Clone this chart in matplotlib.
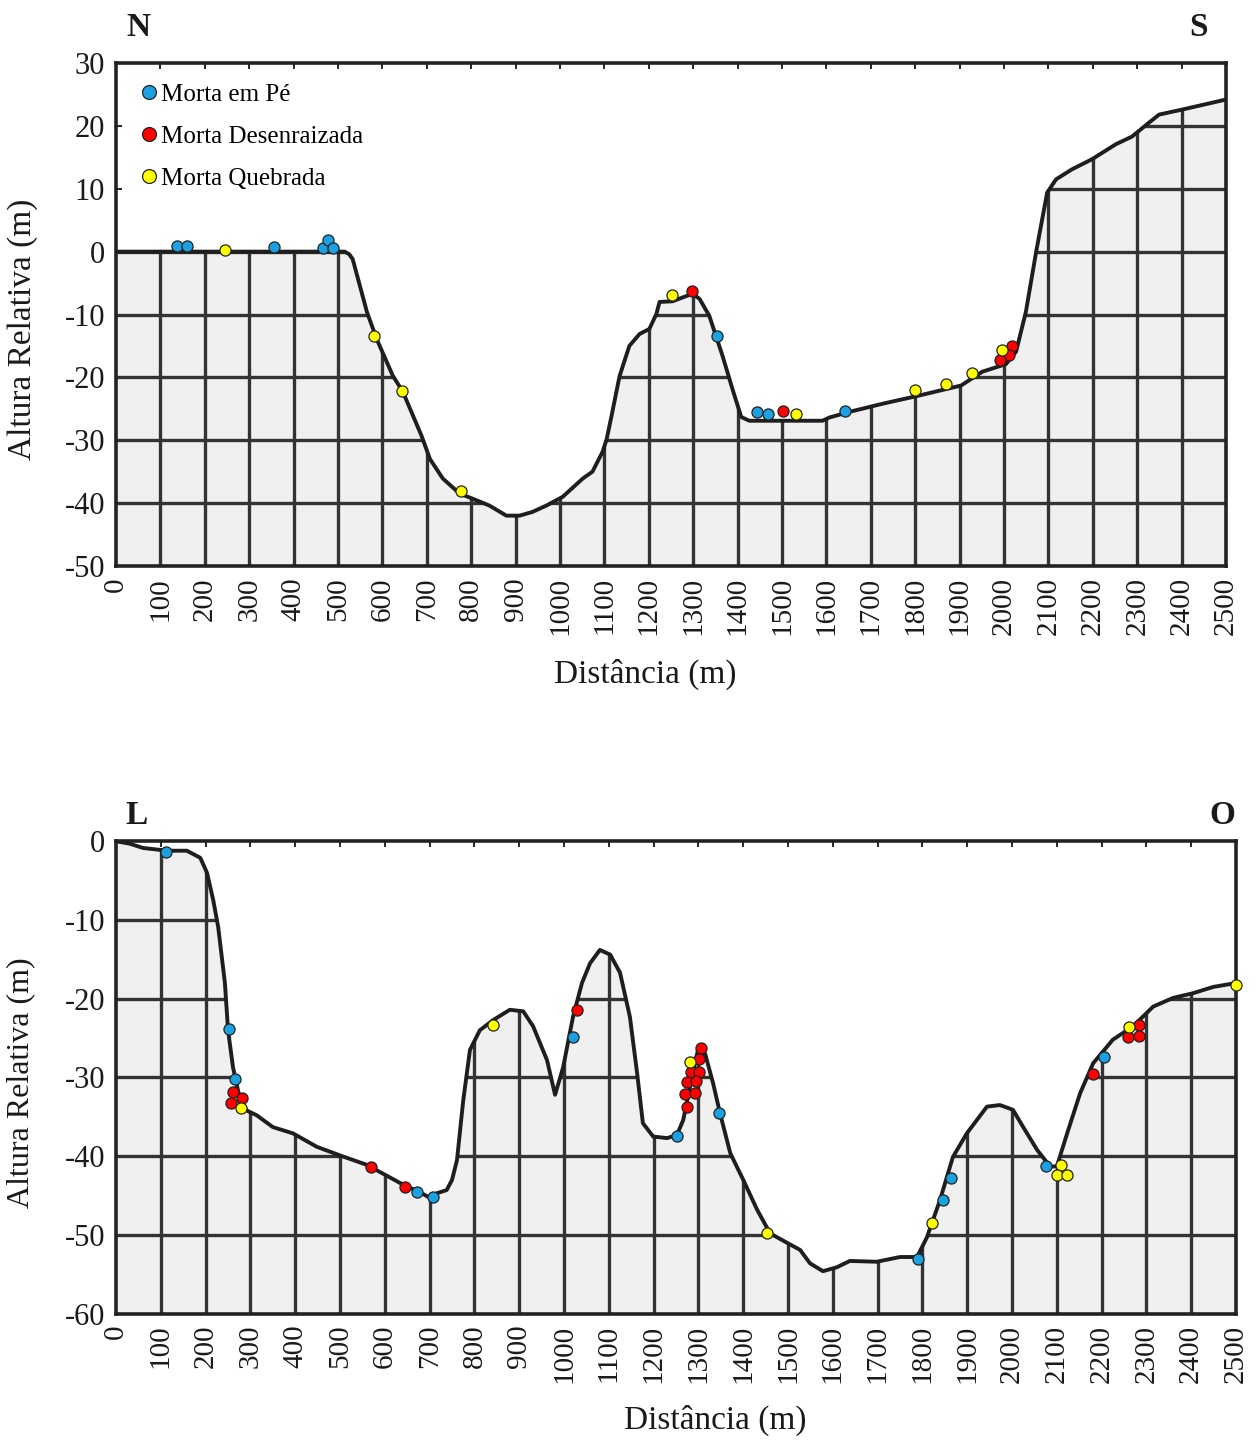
import numpy as np
import matplotlib
matplotlib.use("Agg")
import matplotlib.pyplot as plt
from matplotlib.lines import Line2D

plt.rcParams["font.family"] = ["Liberation Serif", "DejaVu Serif"]

# ===== perfil N-S =====
ns_dist = [0, 515, 525, 533, 565, 587, 623, 646, 688, 707, 736, 774, 803, 841, 879, 909, 938,
           969, 1006, 1051, 1073, 1096, 1105, 1116, 1134, 1156, 1179, 1201, 1217, 1224,
           1253, 1298, 1314, 1336, 1366, 1388, 1408, 1426, 1591, 1606, 1651, 1726, 1802,
           1903, 1951, 2004, 2027, 2049, 2072, 2097, 2117, 2153, 2198, 2252, 2288, 2326,
           2349, 2401, 2500]
ns_alt = [0, 0, -0.4, -1.2, -9.6, -13.9, -19.7, -22.3, -29.3, -33, -36.1, -38.5, -39.3, -40.4,
          -42, -42, -41.4, -40.4, -39, -36.1, -35, -31.8, -29.8, -26.1, -19.8, -15, -13.1,
          -12.3, -9.9, -8, -7.9, -6.7, -7.5, -10.2, -16.6, -21.8, -26.3, -26.9, -26.9,
          -26.4, -25.5, -24.2, -23, -21.3, -19.1, -17.9, -15.9, -9.6, -0.1, 9.4, 11.5,
          13.1, 14.7, 17.1, 18.3, 20.5, 21.8, 22.6, 24.2]

ns_pe_x = [137, 160, 355, 466, 477, 488, 1353, 1443, 1469, 1642]
ns_pe_y = [0.9, 0.9, 0.7, 0.55, 1.8, 0.55, -13.4, -25.5, -25.8, -25.4]
ns_des_x = [1297, 1503, 2017, 2011, 1991]
ns_des_y = [-6.3, -25.4, -15.0, -16.5, -17.2]
ns_que_x = [245, 581, 644, 776, 1252, 1531, 1799, 1869, 1927, 1996]
ns_que_y = [0.2, -13.4, -22.1, -38, -6.9, -25.9, -22, -21, -19.3, -15.6]

# ===== perfil L-O =====
lo_dist = [0, 30, 60, 114, 158, 188, 203, 217, 228, 243, 250, 261, 277, 292, 314, 350,
           395, 448, 500, 560, 634, 679, 701, 716, 738, 750, 761, 775, 790, 812, 842,
           879, 909, 931, 962, 980, 998, 1020, 1040, 1058, 1080, 1103, 1125, 1147, 1163,
           1176, 1199, 1230, 1252, 1266, 1281, 1299, 1315, 1333, 1348, 1371, 1400, 1431,
           1460, 1498, 1527, 1549, 1578, 1609, 1638, 1698, 1750, 1788, 1810, 1839, 1868,
           1899, 1944, 1973, 2002, 2025, 2056, 2085, 2100, 2123, 2152, 2181, 2225, 2270,
           2315, 2359, 2404, 2449, 2500]
lo_alt = [0, -0.3, -0.85, -1.2, -1.2, -2.1, -4, -7.5, -10.9, -18, -24, -28.7, -32.9,
          -34.2, -34.8, -36.3, -37.1, -38.8, -39.9, -41.1, -43.4, -44.6, -45.3, -44.7,
          -44.3, -43, -40.5, -32.9, -26.5, -24, -22.7, -21.4, -21.6, -23.5, -27.8, -32.2,
          -28.7, -22.3, -18, -15.5, -13.8, -14.4, -16.7, -22.3, -29.4, -35.8, -37.5,
          -37.7, -37.3, -35.4, -31.2, -26.5, -27, -30.8, -34.5, -39.6, -43, -46.8, -49.8,
          -51, -51.9, -53.6, -54.6, -54.1, -53.3, -53.4, -52.8, -52.8, -50.3, -45.6,
          -40.1, -37.1, -33.7, -33.5, -34.1, -36.3, -39.2, -41.3, -41.3, -37.1, -32,
          -28.2, -25.2, -23.5, -21, -19.9, -19.3, -18.5, -18]

lo_pe_x = [111, 252, 266, 672, 707, 1019, 1253, 1345, 1789, 1847, 1864, 2076, 2205]
lo_pe_y = [-1.4, -23.9, -30.2, -44.6, -45.2, -24.9, -37.4, -34.5, -53, -45.5, -42.8,
           -41.3, -27.4]
lo_des_x = [260, 281, 257, 568, 644, 1028, 1305, 1302, 1283, 1302, 1274, 1295, 1270,
            1292, 1275, 2180, 2284, 2258, 2283]
lo_des_y = [-31.9, -32.6, -33.2, -41.4, -43.9, -21.4, -26.3, -27.6, -29.3, -29.3, -30.6,
            -30.4, -32.1, -32, -33.8, -29.5, -23.3, -24.9, -24.7]
lo_que_x = [278, 842, 1281, 1454, 1822, 2109, 2101, 2122, 2261, 2501]
lo_que_y = [-33.9, -23.3, -28, -49.7, -48.5, -41.1, -42.4, -42.4, -23.6, -18.3]

x_ticks = np.arange(0, 2501, 100)

C_PE = "#1BA1E2"
C_DES = "#FF0000"
C_QUE = "#FFFF00"
GRID_C = "#333333"
TXT_C = "#1a1a1a"


def draw_profile(ax, dist, alt, ymin, ymax, yticks):
    dist = np.array(dist)
    alt = np.array(alt)
    fill = ax.fill_between(dist, alt, ymin, color="#f0f0f0", zorder=1, linewidth=0)
    clip = fill.get_paths()[0]

    # grelha só dentro da área do terreno
    vl = ax.vlines(x_ticks[1:-1], ymin, ymax, color=GRID_C, linewidth=2.4, zorder=2)
    hl = ax.hlines(yticks[1:-1], 0, 2500, color=GRID_C, linewidth=2.4, zorder=2)
    vl.set_clip_path(clip, ax.transData)
    hl.set_clip_path(clip, ax.transData)

    ax.plot(dist, alt, color="#1e1e1e", linewidth=2.8, zorder=3,
            solid_joinstyle="round")

    ax.set_xlim(0, 2500)
    ax.set_ylim(ymin, ymax)
    ax.set_xticks(x_ticks)
    ax.set_xticklabels([str(v) for v in x_ticks], rotation=90, fontsize=21, color=TXT_C)
    ax.set_yticks(yticks)
    ax.set_yticklabels([str(v) for v in yticks], fontsize=22, color=TXT_C)
    ax.tick_params(axis="x", direction="in", length=4, width=1.2, pad=8, top=True)
    ax.tick_params(axis="y", direction="in", length=4, width=1.2, pad=8)
    for sp in ax.spines.values():
        sp.set_linewidth(2.6)
        sp.set_color("#222222")


def draw_points(ax, xs, ys, color):
    ax.plot(xs, ys, "o", markersize=8, markerfacecolor=color,
            markeredgecolor="#222222", markeredgewidth=0.9, zorder=4, clip_on=False)


fig = plt.figure(figsize=(12.56, 14.43), dpi=100)

# ----- painel superior -----
ax1 = fig.add_axes([0.0924, 0.6078, 0.8838, 0.3485])
draw_profile(ax1, ns_dist, ns_alt, -50, 30, np.arange(-50, 31, 10))
draw_points(ax1, ns_pe_x, ns_pe_y, C_PE)
draw_points(ax1, ns_des_x, ns_des_y, C_DES)
draw_points(ax1, ns_que_x, ns_que_y, C_QUE)
ax1.set_ylabel("Altura Relativa (m)", fontsize=24, color=TXT_C)
ax1.yaxis.set_label_coords(-0.070, 0.47)
ax1.set_xlabel("Distância (m)", fontsize=24, color=TXT_C)
ax1.xaxis.set_label_coords(0.477, -0.184)

handles = [Line2D([], [], marker="o", linestyle="", markersize=10, markerfacecolor=c,
                  markeredgecolor="#222222", markeredgewidth=0.9)
           for c in (C_PE, C_DES, C_QUE)]
ax1.legend(handles, ["Morta em Pé", "Morta Desenraizada", "Morta Quebrada"],
           loc="upper left", frameon=False, fontsize=18, handletextpad=0.0,
           labelspacing=0.78, borderaxespad=0.4, handlelength=1.0,
           bbox_to_anchor=(0.0, 1.0))

# ----- painel inferior -----
ax2 = fig.add_axes([0.0924, 0.0896, 0.8917, 0.3274])
draw_profile(ax2, lo_dist, lo_alt, -60, 0, np.arange(-60, 1, 10))
draw_points(ax2, lo_pe_x, lo_pe_y, C_PE)
draw_points(ax2, lo_des_x, lo_des_y, C_DES)
draw_points(ax2, lo_que_x, lo_que_y, C_QUE)
ax2.set_ylabel("Altura Relativa (m)", fontsize=23, color=TXT_C)
ax2.yaxis.set_label_coords(-0.072, 0.49)
ax2.set_xlabel("Distância (m)", fontsize=24, color=TXT_C)
ax2.xaxis.set_label_coords(0.535, -0.192)

# orientações
for x, y, s in [(0.110, 0.9806, "N"), (0.954, 0.9806, "S"),
                (0.109, 0.4352, "L"), (0.973, 0.4352, "O")]:
    fig.text(x, y, s, fontsize=24, fontweight="bold", ha="center", va="center",
             color=TXT_C)

fig.savefig("out.png", dpi=100)
